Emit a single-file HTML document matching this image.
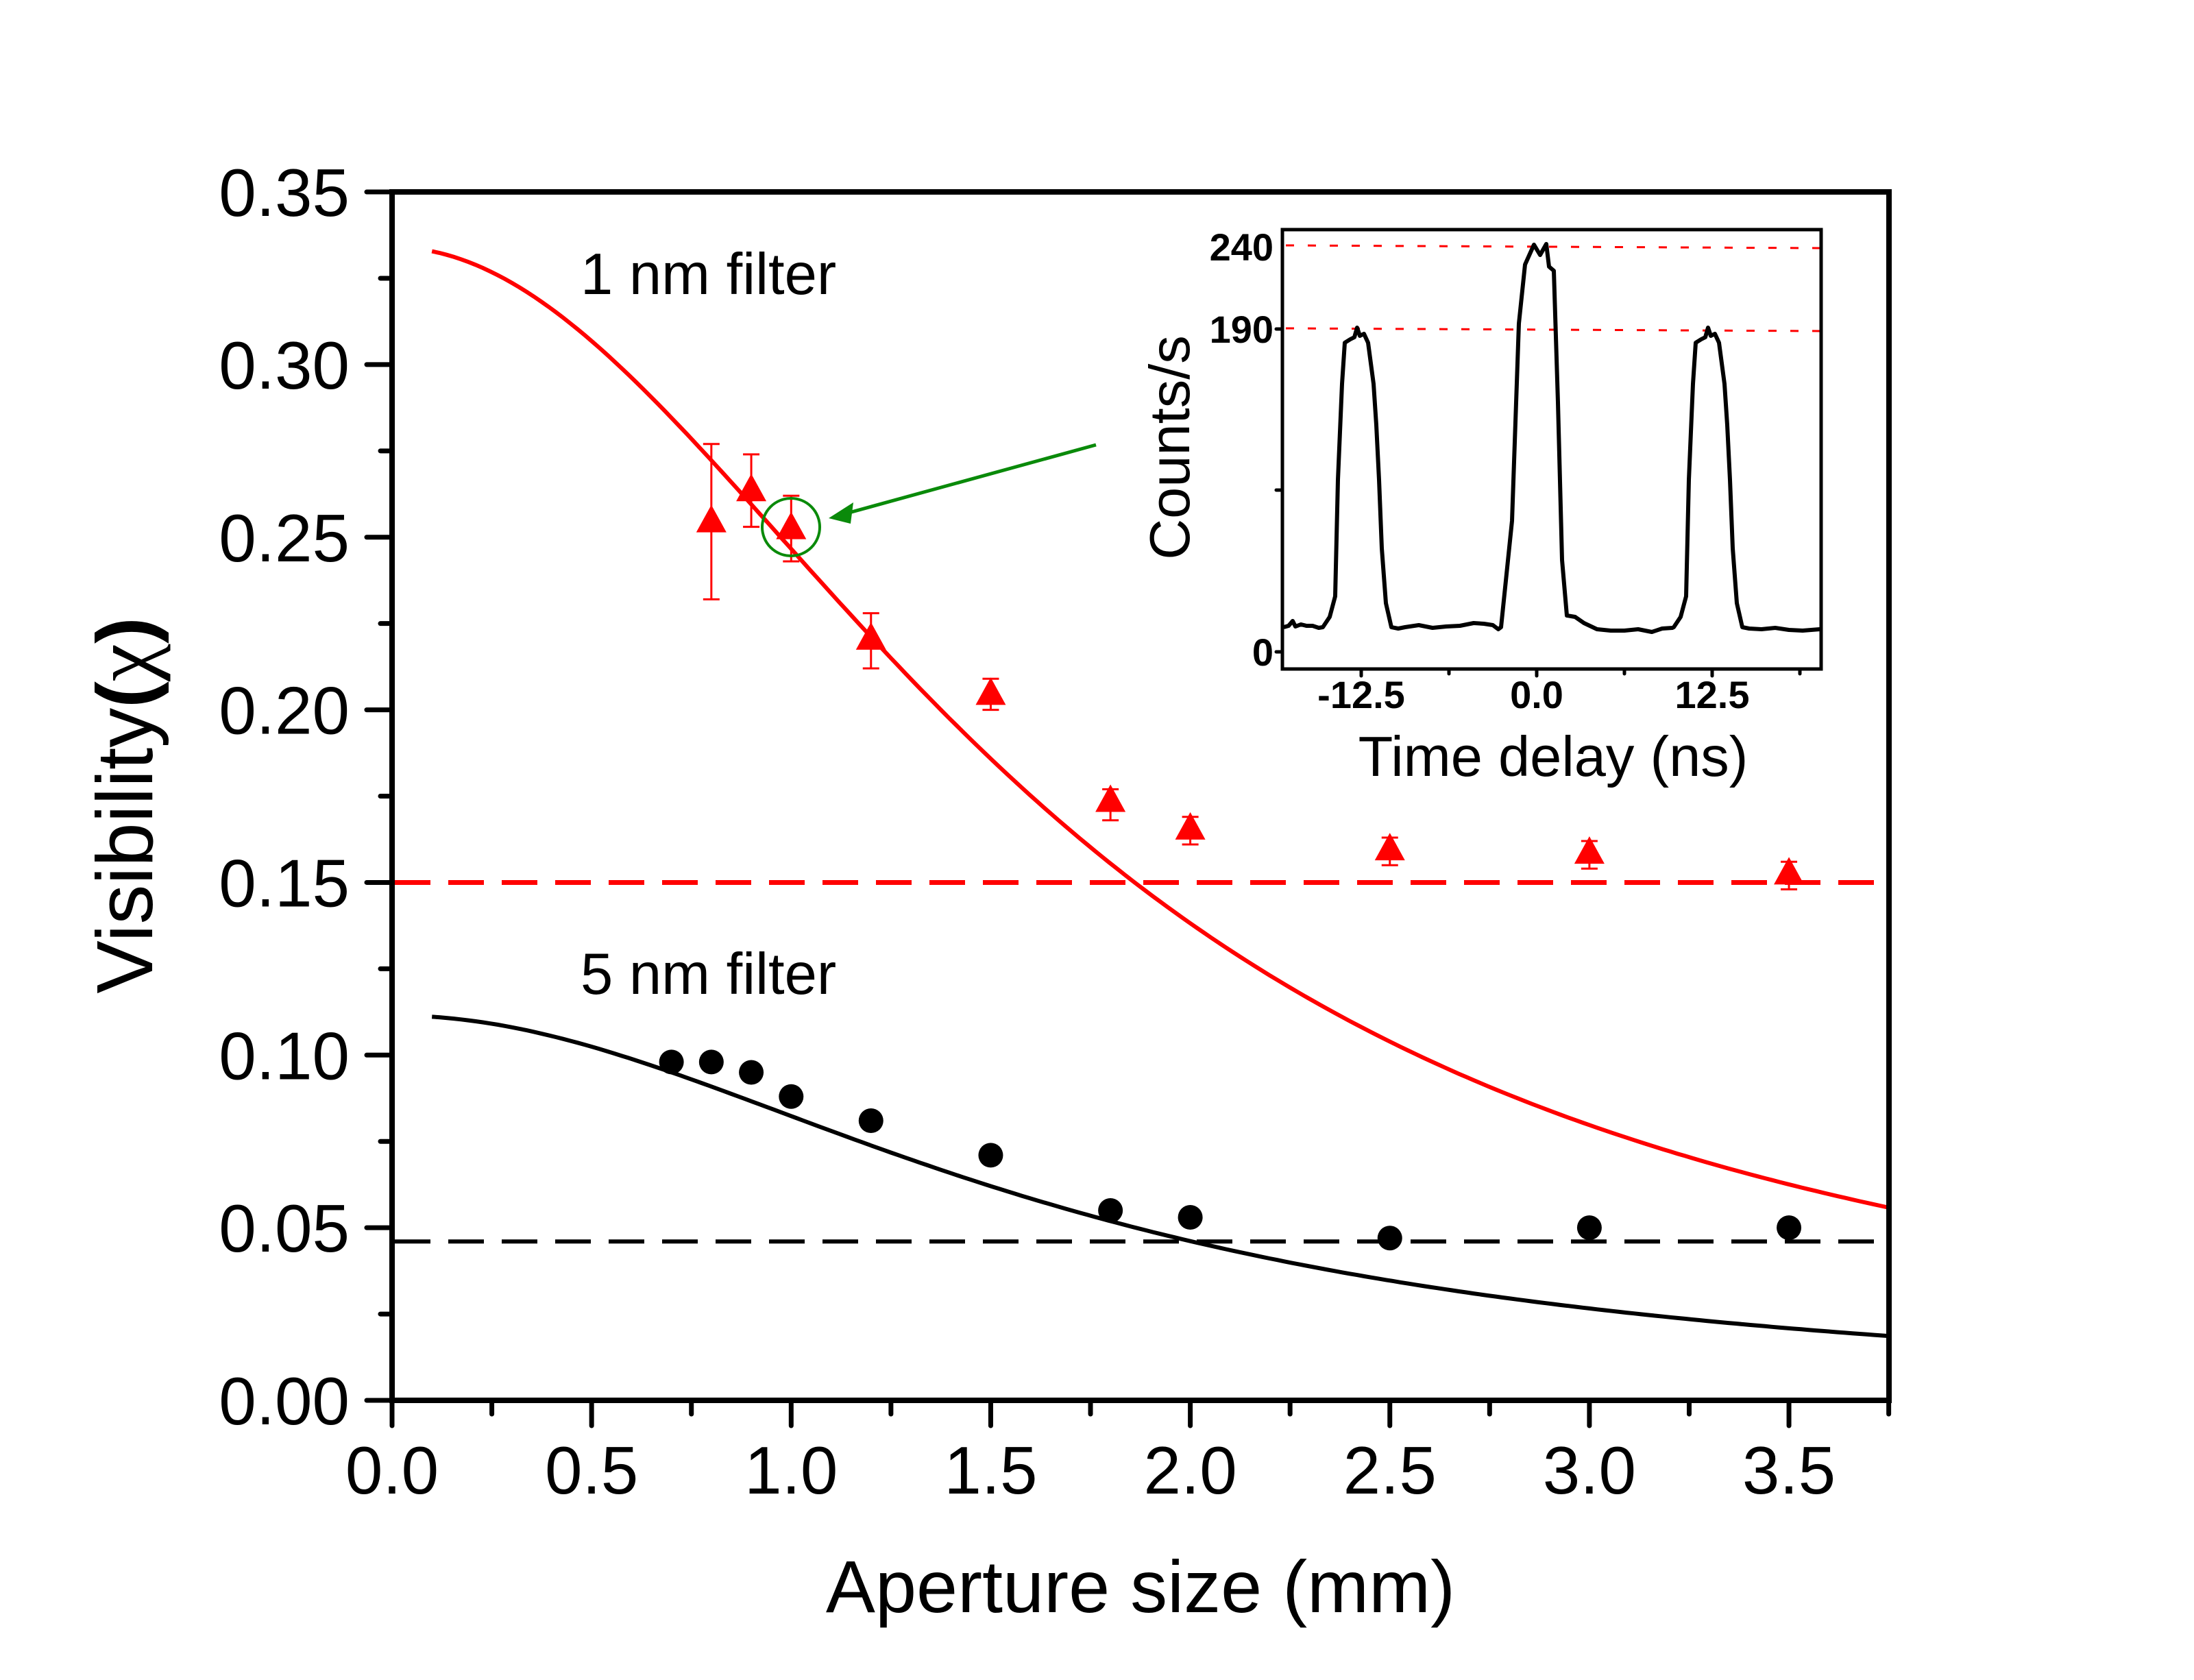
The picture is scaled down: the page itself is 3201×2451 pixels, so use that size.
<!DOCTYPE html>
<html><head><meta charset="utf-8"><style>
html,body{margin:0;padding:0;background:#fff}
svg{display:block}
text{font-family:"Liberation Sans",Arial,sans-serif}
</style></head><body>
<svg id="s" width="3201" height="2451" viewBox="0 0 3201 2451" xmlns="http://www.w3.org/2000/svg">
<rect width="3201" height="2451" fill="#fff"/>
<g id="main"></g>
<rect x="572" y="280" width="2184" height="1763" fill="none" stroke="#000" stroke-width="8"/>
<g id="ticks" stroke="#000" stroke-width="7" stroke-linecap="round"></g>
<g id="labels" font-size="98" fill="#000"></g>
<text x="847" y="429" font-size="85">1 nm filter</text>
<text x="847" y="1450" font-size="85">5 nm filter</text>
<text x="1664" y="2352" font-size="108" text-anchor="middle">Aperture size (mm)</text>
<text transform="translate(222,1175) rotate(-90)" font-size="116" text-anchor="middle">Visibility<tspan font-weight="bold">(</tspan><tspan font-family="Liberation Serif,serif" font-size="124">χ</tspan><tspan font-weight="bold">)</tspan></text>
<line x1="1599" y1="649" x2="1235" y2="749" stroke="#0a8a0a" stroke-width="5"/>
<polygon points="1209,756 1245,733 1241,764" fill="#0a8a0a"/>
<ellipse cx="1154" cy="769" rx="42" ry="42" fill="none" stroke="#0a8a0a" stroke-width="4"/>
<g id="inset"></g>
<rect x="1871" y="335" width="786" height="641" fill="none" stroke="#000" stroke-width="5"/>
<g font-size="56" font-weight="bold" fill="#000" font-family="Liberation Sans,Arial,sans-serif">
<text x="1858" y="380" text-anchor="end">240</text>
<text x="1858" y="500" text-anchor="end">190</text>
<text x="1858" y="971" text-anchor="end">0</text>
<text x="1986" y="1033" text-anchor="middle">-12.5</text>
<text x="2242" y="1033" text-anchor="middle">0.0</text>
<text x="2498" y="1033" text-anchor="middle">12.5</text>
</g>
<g stroke="#000" stroke-width="5" stroke-linecap="round">
<line x1="1862" y1="480" x2="1871" y2="480"/><line x1="1862" y1="951" x2="1871" y2="951"/><line x1="1862" y1="715" x2="1871" y2="715"/>
<line x1="1986" y1="976" x2="1986" y2="986"/><line x1="2114" y1="976" x2="2114" y2="983"/><line x1="2242" y1="976" x2="2242" y2="986"/><line x1="2370" y1="976" x2="2370" y2="983"/><line x1="2498" y1="976" x2="2498" y2="986"/><line x1="2626" y1="976" x2="2626" y2="983"/>
</g>
<text x="2266" y="1132" font-size="83" text-anchor="middle">Time delay (ns)</text>
<text transform="translate(1735,653) rotate(-90)" font-size="83" text-anchor="middle">Counts/s</text>
</svg>
<script>
const NS="http://www.w3.org/2000/svg";
function el(p,t,a){const e=document.createElementNS(NS,t);for(const k in a)e.setAttribute(k,a[k]);p.appendChild(e);return e;}
const X=v=>572+582.3*v, Y=v=>2043-5037*v;
const m=document.getElementById('main');
el(m,'line',{x1:576,x2:2752,y1:Y(0.15),y2:Y(0.15),stroke:'#f00','stroke-width':7,'stroke-dasharray':'52 26'});
el(m,'line',{x1:576,x2:2752,y1:Y(0.046),y2:Y(0.046),stroke:'#000','stroke-width':6,'stroke-dasharray':'52 26'});
function curve(a,col){let d='';for(let i=0;i<=200;i++){const x=0.1+i*(3.65/200);const v=a/(1+(x/1.68)*(x/1.68));d+=(i?'L':'M')+X(x).toFixed(1)+' '+Y(v).toFixed(1);}el(m,'path',{d:d,fill:'none',stroke:col,'stroke-width':6});}
curve(0.334,'#f00');curve(0.1115,'#000');
const R=[[0.8,0.255,0.232,0.277],[0.9,0.264,0.253,0.274],[1.0,0.253,0.243,0.262],[1.2,0.221,0.212,0.228],[1.5,0.205,0.200,0.209],[1.8,0.174,0.168,0.177],[2.0,0.166,0.161,0.169],[2.5,0.160,0.155,0.163],[3.0,0.159,0.154,0.162],[3.5,0.153,0.148,0.156]];
R.forEach(p=>{const x=X(p[0]);
 el(m,'path',{d:`M${x} ${Y(p[2])}V${Y(p[3])}M${x-12} ${Y(p[2])}H${x+12}M${x-12} ${Y(p[3])}H${x+12}`,stroke:'#f00','stroke-width':3,fill:'none'});
 const y=Y(p[1]);el(m,'polygon',{points:`${x-22},${y+18} ${x+22},${y+18} ${x},${y-22}`,fill:'#f00'});});
const B=[[0.7,0.098],[0.8,0.098],[0.9,0.095],[1.0,0.088],[1.2,0.081],[1.5,0.071],[1.8,0.055],[2.0,0.053],[2.5,0.047],[3.0,0.050],[3.5,0.050]];
B.forEach(p=>el(m,'circle',{cx:X(p[0]),cy:Y(p[1]),r:18,fill:'#000'}));
const t=document.getElementById('ticks'),L=document.getElementById('labels');
for(let i=0;i<=15;i++){const x=X(i*0.25);if(x>2760)break;el(t,'line',{x1:x,x2:x,y1:2043,y2:i%2?2063:2080});}
for(let i=0;i<=7;i++){const x=X(i*0.5);const tx=el(L,'text',{x:x,y:2179,'text-anchor':'middle'});tx.textContent=(i*0.5).toFixed(1);}
for(let i=0;i<=14;i++){const y=Y(i*0.025);el(t,'line',{x1:i%2?555:535,x2:572,y1:y,y2:y});}
for(let i=0;i<=7;i++){const y=Y(i*0.05);const tx=el(L,'text',{x:510,y:y+35,'text-anchor':'end'});tx.textContent=(i*0.05).toFixed(2);}
const g=document.getElementById('inset');
el(g,'line',{x1:1876,x2:2657,y1:358,y2:362,stroke:'#f00','stroke-width':3,'stroke-dasharray':'12 20'});
el(g,'line',{x1:1876,x2:2657,y1:479,y2:483,stroke:'#f00','stroke-width':3,'stroke-dasharray':'12 20'});
const side=[[-56,915],[-46,900],[-38,870],[-34,700],[-28,560],[-24,500],[-16,495],[-10,492],[-6,478],[-2,490],[4,487],[10,500],[18,560],[22,620],[26,700],[30,800],[36,880],[44,915],[54,917]];
const cen=[[-52,915],[-36,760],[-26,472],[-17,386],[-4,357],[5,372],[14,356],[18,389],[25,395],[31,587],[37,817],[44,898],[56,900],[69,909]];
let d='M1873 915 L1880 913 L1886 906 L1890 914 L1898 911 L1906 913 L1915 913 L1924 916';
side.forEach(p=>d+=` L${1986+p[0]} ${p[1]}`);
d+=' L2050 915 L2070 912 L2090 916 L2110 914 L2130 913 L2150 909 L2165 910 L2178 912 L2186 918';
cen.forEach(p=>d+=` L${2242+p[0]} ${p[1]}`);
d+=' L2330 918 L2350 920 L2370 920 L2390 918 L2410 922 L2425 917 L2440 916';
side.forEach(p=>d+=` L${2498+p[0]} ${p[1]}`);
d+=' L2570 918 L2590 916 L2610 919 L2630 920 L2655 918';
el(g,'path',{d:d,fill:'none',stroke:'#000','stroke-width':6,'stroke-linejoin':'round'});
</script>
</body></html>
